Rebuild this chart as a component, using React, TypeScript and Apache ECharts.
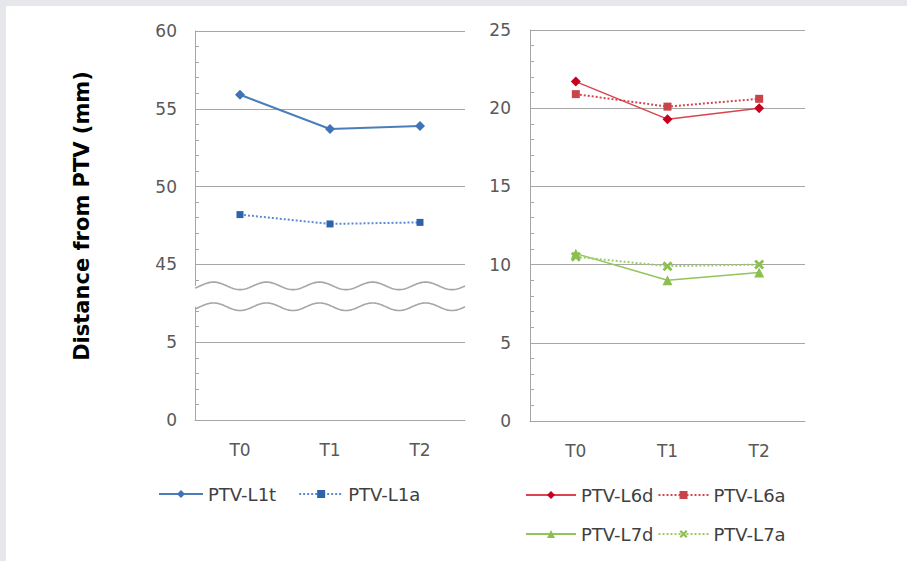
import React, { useEffect, useRef } from "react";
import * as echarts from "echarts";

const CATEGORIES = ["T0", "T1", "T2"];
const L1T = [55.9, 53.7, 53.9];
const L1A = [48.2, 47.6, 47.7];
const L6D = [21.7, 19.3, 20.0];
const L6A = [20.9, 20.1, 20.6];
const L7D = [10.7, 9.0, 9.5];
const L7A = [10.5, 9.9, 10.0];
const LEFT_TICK_LABELS = [0, 5, 45, 50, 55, 60];
const RIGHT_TICK_LABELS = [0, 5, 10, 15, 20, 25];
const NAMES = ["PTV-L1t", "PTV-L1a", "PTV-L6d", "PTV-L6a", "PTV-L7d", "PTV-L7a"];

// broken left axis: values below BREAK_LOW shown as-is, values above shifted down by BREAK_SHIFT
const BREAK_LOW = 10;
const BREAK_SHIFT = 35;
const toDisplay = (v: number) => (v < BREAK_LOW ? v : v - BREAK_SHIFT);

const FONT = "DejaVu Sans";
const GRID0 = { left: 195, top: 31, width: 270, height: 389 };
const GRID1 = { left: 530, top: 30, width: 275, height: 391 };
const AXIS_GRAY = "#a6a6a6";
const X_SYMBOL = "path://M2,0L5,3L8,0L10,2L7,5L10,8L8,10L5,7L2,10L0,8L3,5L0,2Z";

function yAxisCfg(gridIndex: number, labels: number[], margin: number) {
  return {
    type: "value",
    gridIndex,
    min: 0,
    max: 25,
    interval: 5,
    axisLine: { show: true, lineStyle: { color: AXIS_GRAY, width: 1 } },
    axisTick: { show: true, inside: true, length: 4, lineStyle: { color: AXIS_GRAY } },
    minorTick: { show: true, splitNumber: 5, length: 4, lineStyle: { color: AXIS_GRAY } },
    splitLine: { show: true, lineStyle: { color: AXIS_GRAY, width: 1 } },
    axisLabel: {
      margin,
      color: "#595959",
      fontFamily: FONT,
      fontSize: 17,
      formatter: (v: number) => String(labels[Math.round(v / 5)]),
    },
  };
}

function xAxisCfg(gridIndex: number) {
  return {
    type: "category",
    gridIndex,
    data: CATEGORIES,
    boundaryGap: true,
    axisLine: { show: true, lineStyle: { color: AXIS_GRAY, width: 1 } },
    axisTick: { show: false },
    axisLabel: { margin: 21, color: "#595959", fontFamily: FONT, fontSize: 17 },
  };
}

export default function App() {
  const ref = useRef<HTMLDivElement>(null);
  useEffect(() => {
    document.body.style.margin = "0";
    const chart = echarts.init(ref.current!, null, { renderer: "svg" });
    const legendText = { fontFamily: FONT, fontSize: 18, color: "#404040" };
    chart.setOption({
      animation: false,
      backgroundColor: "#ffffff",
      grid: [
        { ...GRID0, containLabel: false },
        { ...GRID1, containLabel: false },
      ],
      xAxis: [xAxisCfg(0), xAxisCfg(1)],
      yAxis: [yAxisCfg(0, LEFT_TICK_LABELS, 18), yAxisCfg(1, RIGHT_TICK_LABELS, 19)],
      legend: [
        {
          data: [NAMES[0], NAMES[1]],
          left: 153,
          top: 480,
          itemWidth: 44,
          itemHeight: 10,
          itemGap: 22,
          textStyle: legendText,
        },
        {
          data: [NAMES[2], NAMES[3]],
          left: 520,
          top: 481,
          itemWidth: 50,
          itemHeight: 10,
          itemGap: 4,
          textStyle: legendText,
        },
        {
          data: [NAMES[4], NAMES[5]],
          left: 520,
          top: 520,
          itemWidth: 50,
          itemHeight: 10,
          itemGap: 4,
          textStyle: legendText,
        },
      ],
      series: [
        {
          name: NAMES[0],
          type: "line",
          xAxisIndex: 0,
          yAxisIndex: 0,
          data: L1T.map(toDisplay),
          symbol: "diamond",
          symbolSize: 10,
          lineStyle: { color: "#4a7ebb", width: 2 },
          itemStyle: { color: "#3f72b8" },
        },
        {
          name: NAMES[1],
          type: "line",
          xAxisIndex: 0,
          yAxisIndex: 0,
          data: L1A.map(toDisplay),
          symbol: "rect",
          symbolSize: 7,
          lineStyle: { color: "#5b8bd0", width: 2, type: [2, 2] },
          itemStyle: { color: "#2f62aa" },
        },
        {
          name: NAMES[2],
          type: "line",
          xAxisIndex: 1,
          yAxisIndex: 1,
          data: L6D,
          symbol: "diamond",
          symbolSize: 10,
          lineStyle: { color: "#d9444e", width: 1.5 },
          itemStyle: { color: "#c8001e" },
        },
        {
          name: NAMES[3],
          type: "line",
          xAxisIndex: 1,
          yAxisIndex: 1,
          data: L6A,
          symbol: "rect",
          symbolSize: 8,
          lineStyle: { color: "#d2474d", width: 2, type: [2, 2] },
          itemStyle: { color: "#c9434a" },
        },
        {
          name: NAMES[4],
          type: "line",
          xAxisIndex: 1,
          yAxisIndex: 1,
          data: L7D,
          symbol: "triangle",
          symbolSize: 10,
          lineStyle: { color: "#92c45a", width: 1.5 },
          itemStyle: { color: "#8cbf4f" },
        },
        {
          name: NAMES[5],
          type: "line",
          xAxisIndex: 1,
          yAxisIndex: 1,
          data: L7A,
          symbol: X_SYMBOL,
          symbolSize: 10,
          lineStyle: { color: "#9ccc65", width: 2, type: [2, 2] },
          itemStyle: { color: "#8cbf4f" },
        },
      ],
    });

    // break decoration on the left axis
    const yUp = chart.convertToPixel({ yAxisIndex: 0 }, 8.62) as number;
    const yLo = chart.convertToPixel({ yAxisIndex: 0 }, 7.28) as number;
    const x0 = GRID0.left;
    const x1 = GRID0.left + GRID0.width;
    const amp = 3.8;
    const period = 53;
    const wave = (c: number) => {
      const pts: number[][] = [];
      for (let x = x0; x <= x1; x += 1) {
        pts.push([x, c + amp * Math.cos((2 * Math.PI * (x - x0 - 45)) / period)]);
      }
      return pts;
    };
    chart.setOption({
      graphic: [
        { type: "rect", z: 200, shape: { x: 0, y: 0, width: 907, height: 6 }, style: { fill: "#e5e7ea" } },
        { type: "rect", z: 200, shape: { x: 0, y: 0, width: 6, height: 561 }, style: { fill: "#e5e7ea" } },
        {
          type: "rect",
          z: 100,
          shape: { x: x0 - 3, y: yUp, width: 10, height: yLo - yUp },
          style: { fill: "#ffffff" },
        },
        { type: "polyline", z: 101, shape: { points: wave(yUp) }, style: { stroke: AXIS_GRAY, lineWidth: 1.6, fill: null } },
        { type: "polyline", z: 101, shape: { points: wave(yLo) }, style: { stroke: AXIS_GRAY, lineWidth: 1.6, fill: null } },
        {
          type: "text",
          z: 100,
          x: 82,
          y: 216,
          rotation: Math.PI / 2,
          style: {
            text: "Distance from PTV (mm)",
            font: `bold 21px "${FONT}"`,
            fill: "#000000",
            textAlign: "center",
            textVerticalAlign: "middle",
          },
        },
      ],
    });
    return () => chart.dispose();
  }, []);
  return <div ref={ref} style={{ width: 907, height: 561 }} />;
}
